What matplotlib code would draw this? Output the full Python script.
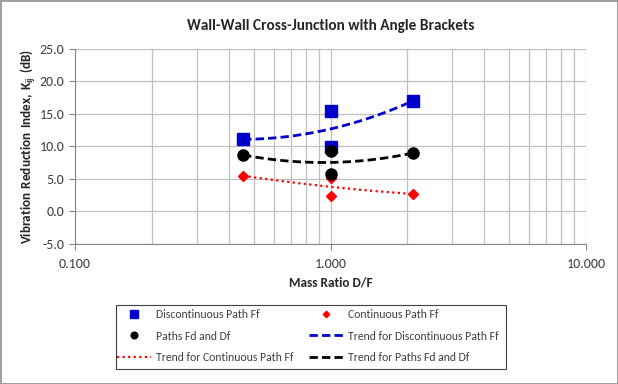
import matplotlib
matplotlib.use("Agg")
import matplotlib.pyplot as plt
from matplotlib.patches import Rectangle
from matplotlib.ticker import LogLocator, FixedLocator, NullFormatter
import numpy as np

plt.rcParams["font.family"] = ["Carlito", "DejaVu Sans"]
plt.rcParams["mathtext.fontset"] = "custom"
plt.rcParams["mathtext.bf"] = "Carlito:bold"
plt.rcParams["mathtext.rm"] = "Carlito"

# measured points (mass ratio D/F, Kij dB)
disc_x = [0.455, 1.0, 1.0, 2.1]
disc_y = [11.1, 15.5, 9.9, 17.0]
cont_x = [0.455, 1.0, 1.0, 2.1]
cont_y = [5.5, 5.2, 2.4, 2.7]
fd_x = [0.455, 1.0, 1.0, 2.1]
fd_y = [8.7, 9.3, 5.8, 9.0]

x_ticks = [0.1, 1.0, 10.0]
x_tick_labels = ["0.100", "1.000", "10.000"]
y_ticks = [-5, 0, 5, 10, 15, 20, 25]


def trend(xs, ys):
    # 2nd order polynomial trend (in log x)
    lx = np.log10(xs)
    c = np.polyfit(lx, ys, 2)
    xx = np.linspace(lx.min(), lx.max(), 100)
    return 10 ** xx, np.polyval(c, xx)


fig = plt.figure(figsize=(6.18, 3.84), dpi=100)
fig.patch.set_edgecolor("#a0a0a0")
fig.patch.set_linewidth(2)
ax = fig.add_axes([0.1214, 0.3646, 0.8268, 0.5078])

grid_c = "#c0c0c0"
ax.set_xscale("log")
ax.set_xlim(0.1, 10)
ax.set_ylim(-5, 25)
ax.xaxis.set_major_locator(FixedLocator(x_ticks))
ax.set_xticklabels(x_tick_labels)
ax.xaxis.set_minor_locator(LogLocator(base=10, subs=np.arange(2, 10)))
ax.xaxis.set_minor_formatter(NullFormatter())
ax.set_yticks(y_ticks)
ax.set_yticklabels([f"{v:.1f}" for v in y_ticks])
ax.grid(which="both", axis="x", color=grid_c, lw=0.9)
ax.grid(which="major", axis="y", color=grid_c, lw=0.9)
ax.set_axisbelow(True)
for s in ["top", "right"]:
    ax.spines[s].set_visible(False)
ax.spines["left"].set_color("#868686")
ax.spines["bottom"].set_color("#868686")
ax.tick_params(which="major", length=4, color="#868686", labelsize=10, colors="#404040")
ax.tick_params(which="minor", length=0)
ax.tick_params(axis="x", pad=6)

h_disc, = ax.plot(disc_x, disc_y, ls="none", marker="s", ms=8.5, color="#0000cc")
h_cont, = ax.plot(cont_x, cont_y, ls="none", marker="D", ms=5.5, color="#ff0000")
h_fd, = ax.plot(fd_x, fd_y, ls="none", marker="o", ms=8, color="black")

tx, ty = trend(disc_x, disc_y)
t_disc, = ax.plot(tx, ty, ls=(0, (3, 1.5)), lw=2, color="#0000cc")
tx, ty = trend(cont_x, cont_y)
t_cont, = ax.plot(tx, ty, ls=(0, (1, 1.5)), lw=1.6, color="#ff0000")
tx, ty = trend(fd_x, fd_y)
t_fd, = ax.plot(tx, ty, ls=(0, (3, 1.5)), lw=2, color="black")

ax.set_title("Wall-Wall Cross-Junction with Angle Brackets", fontsize=11,
             fontweight="bold", color="#262626", pad=14)
ax.set_xlabel("Mass Ratio D/F", fontsize=9.5, fontweight="bold", color="#262626", labelpad=5)
ax.set_ylabel(r"$\mathbf{Vibration\ Reduction\ Index{,}\ K_{ij}\ (dB)}$", fontsize=9.5,
              color="#262626", labelpad=1)

# legend box drawn separately from the legend entries
box = (116 / 618, 1 - 369 / 384, 390 / 618, 64 / 384)
fig.patches.append(Rectangle(box[:2], box[2], box[3], transform=fig.transFigure,
                             fill=False, edgecolor="#404040", lw=0.8))

handles = [h_disc, h_fd, t_cont, h_cont, t_disc, t_fd]
labels = ["Discontinuous Path Ff", "Paths Fd and Df", "Trend for Continuous Path Ff",
          "Continuous Path Ff", "Trend for Discontinuous Path Ff", "Trend for Paths Fd and Df"]
leg = fig.legend(handles, labels, ncol=2, loc="upper left",
                 bbox_to_anchor=(117 / 618, 1 - 309 / 384),
                 fontsize=8.5, frameon=False,
                 handlelength=2.9, handletextpad=0.4, columnspacing=1.3,
                 labelspacing=0.9, borderaxespad=0, borderpad=0, markerscale=0.6)
for t in leg.get_texts():
    t.set_color("#404040")

fig.savefig("out.png", dpi=100, edgecolor=fig.get_edgecolor())
